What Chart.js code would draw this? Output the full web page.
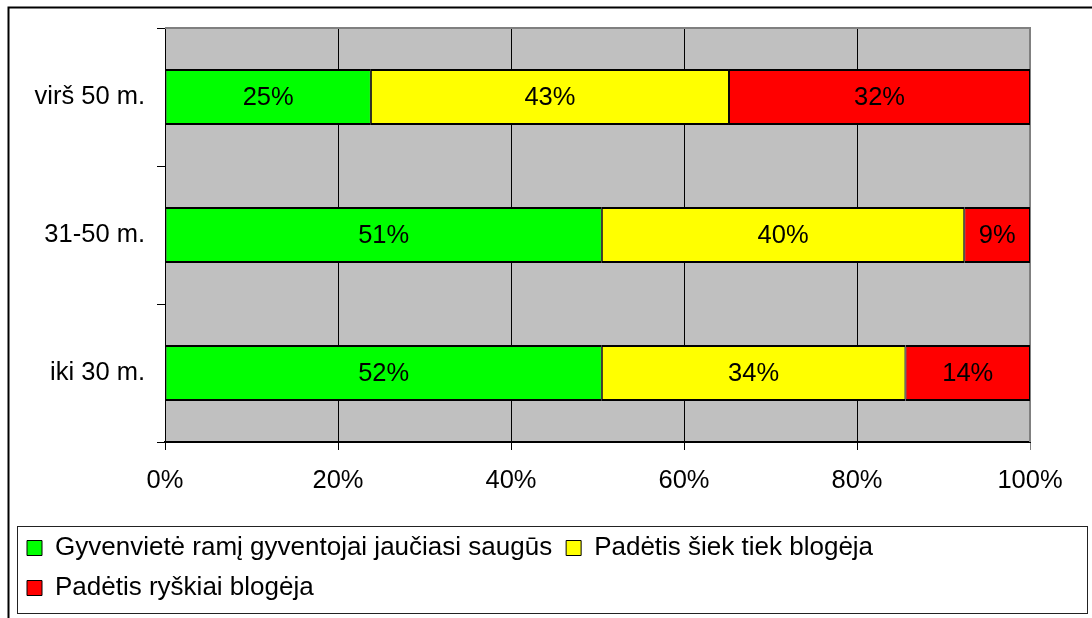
<!DOCTYPE html>
<html>
<head>
<meta charset="utf-8">
<script src="https://cdn.jsdelivr.net/npm/chart.js@4.4.1/dist/chart.umd.min.js"></script>
<style>
  html, body { margin: 0; padding: 0; background: #fff; }
</style>
</head>
<body>
<canvas id="chart" width="1092" height="618"></canvas>
<script>
  // age groups, top to bottom
  var groups = ["virš 50 m.", "31-50 m.", "iki 30 m."];
  var seriesNames = ["Gyvenvietė ramį gyventojai jaučiasi saugūs", "Padėtis šiek tiek blogėja", "Padėtis ryškiai blogėja"];
  // bar lengths as drawn (share of the row, %)
  var calmShare = [23.8, 50.5, 50.5];
  var slightShare = [41.4, 41.9, 35.1];
  var sharpShare = [34.8, 7.6, 14.4];
  // numbers printed on the bars
  var calmLabels = [25, 51, 52];
  var slightLabels = [43, 40, 34];
  var sharpLabels = [32, 9, 14];
  var xTickLabels = ["0%", "20%", "40%", "60%", "80%", "100%"];

  Chart.defaults.font.family = "'Liberation Sans', Arial, sans-serif";
  Chart.defaults.color = "#000";

  var plotBack = {
    id: "plotBack",
    beforeDraw: function (chart) {
      var a = chart.chartArea, ctx = chart.ctx;
      ctx.save();
      ctx.fillStyle = "#fff";
      ctx.fillRect(0, 0, chart.width, chart.height);
      ctx.fillStyle = "#C0C0C0";
      ctx.fillRect(a.left, a.top, a.right - a.left, a.bottom - a.top);
      ctx.restore();
    },
    beforeDatasetsDraw: function (chart) {
      var a = chart.chartArea, ctx = chart.ctx;
      ctx.save();
      ctx.strokeStyle = "#808080";
      ctx.lineWidth = 2;
      ctx.beginPath();
      ctx.moveTo(a.left, a.top);
      ctx.lineTo(a.right, a.top);
      ctx.lineTo(a.right, a.bottom);
      ctx.stroke();
      ctx.restore();
    },
    afterDraw: function (chart) {
      var ctx = chart.ctx, lg = chart.legend;
      ctx.save();
      // outer frame
      ctx.strokeStyle = "#000";
      ctx.lineWidth = 2;
      ctx.strokeRect(8.5, 7.5, chart.width + 10, chart.height + 10);
      // legend frame
      ctx.lineWidth = 1;
      ctx.strokeStyle = "#222";
      ctx.strokeRect(lg.left + 4.5, lg.top + 5.5, chart.width - lg.left - 9, chart.height - lg.top - 10);
      ctx.restore();
    }
  };

  var barLabels = {
    id: "barLabels",
    afterDatasetsDraw: function (chart) {
      var ctx = chart.ctx;
      var texts = [calmLabels, slightLabels, sharpLabels];
      ctx.save();
      ctx.font = "25.5px 'Liberation Sans', Arial, sans-serif";
      ctx.fillStyle = "#000";
      ctx.textAlign = "center";
      ctx.textBaseline = "middle";
      chart.data.datasets.forEach(function (ds, d) {
        chart.getDatasetMeta(d).data.forEach(function (el, i) {
          var c = el.getCenterPoint();
          ctx.fillText(texts[d][i] + "%", c.x, c.y + 1);
        });
      });
      ctx.restore();
    }
  };

  var border = { top: 2, bottom: 2, left: 1, right: 1 };

  new Chart(document.getElementById("chart"), {
    type: "bar",
    data: {
      labels: groups,
      datasets: [
        { label: seriesNames[0], data: calmShare, backgroundColor: "#00FF00", borderColor: "#000", borderWidth: border, borderSkipped: false },
        { label: seriesNames[1], data: slightShare, backgroundColor: "#FFFF00", borderColor: "#000", borderWidth: border, borderSkipped: false },
        { label: seriesNames[2], data: sharpShare, backgroundColor: "#FF0000", borderColor: "#000", borderWidth: border, borderSkipped: false }
      ]
    },
    options: {
      indexAxis: "y",
      responsive: false,
      animation: false,
      barPercentage: 0.406,
      categoryPercentage: 1,
      layout: { padding: { left: 13, top: 28, right: 62, bottom: 7 } },
      scales: {
        x: {
          stacked: true,
          min: 0,
          max: 100,
          ticks: {
            stepSize: 20,
            padding: 16,
            font: { size: 25.5 },
            callback: function (v, i) { return xTickLabels[i]; }
          },
          grid: {
            color: function (c) { return c.index === 5 ? "#808080" : "#000"; },
            lineWidth: 1,
            tickLength: 8
          },
          border: { color: "#000", width: 2 },
          afterFit: function (s) { s.height = 79; }
        },
        y: {
          stacked: true,
          ticks: { padding: 12, font: { size: 25.5 } },
          grid: { drawOnChartArea: false, color: "#000", tickLength: 8 },
          border: { color: "#000", width: 1 },
          afterFit: function (s) { s.width = 152; }
        }
      },
      plugins: {
        tooltip: { enabled: false },
        legend: {
          position: "bottom",
          align: "start",
          labels: {
            boxWidth: 15,
            boxHeight: 15,
            padding: 14,
            font: { size: 26 },
            color: "#000",
            generateLabels: function (chart) {
              var items = Chart.defaults.plugins.legend.labels.generateLabels(chart);
              items.forEach(function (it) { it.lineWidth = 1; it.strokeStyle = "#000"; });
              return items;
            }
          }
        }
      }
    },
    plugins: [plotBack, barLabels]
  });
</script>
</body>
</html>
